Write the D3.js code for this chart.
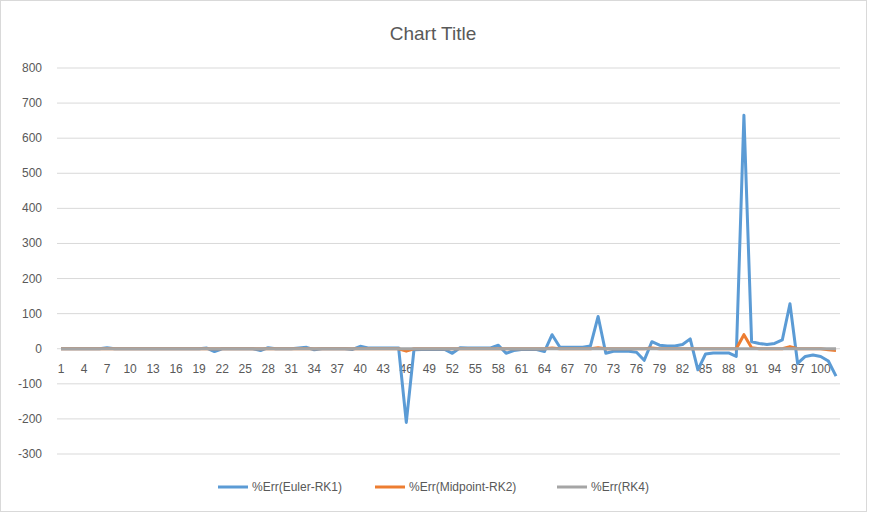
<!DOCTYPE html>
<html><head><meta charset="utf-8">
<script src="https://cdn.jsdelivr.net/npm/d3@7"></script>
<style>body{margin:0;background:#fff;font-family:"Liberation Sans",Arial,sans-serif}</style>
</head><body><div id="app"></div>
<script>
const euler = [0,0,0,0,0,0,3,0,0,0, 0,0,0,0,0,0,0,0,0,2, -8,0,0,0,0,0,-5,3,0,0, 0,2,4,-3,0,0,0,0,-2,7,
  2,2,2,2,2,-210,-3,-2,-2,-2, -2,-13,3,2,2,2,2,10,-13,-5, -2,-2,-2,-8,40,5,4,4,4,8,
  92,-13,-7,-7,-7,-10,-33,20,10,8, 8,12,28,-60,-15,-12,-12,-12,-22,665, 20,15,12,15,25,128,-42,-22,-18,-22, -35,-78];
const midpoint = euler.map(() => 0);
[[46,-7],[65,2],[71,3],[78,2],[90,40],[91,3],[96,6],[101,-3],[102,-5]].forEach(([i,v]) => midpoint[i-1] = v);
const rk4 = euler.map(() => 0);
const seriesNames = ["%Err(Euler-RK1)", "%Err(Midpoint-RK2)", "%Err(RK4)"];
const colors = ["#5b9bd5", "#ed7d31", "#a5a5a5"];
const yTicks = [-300,-200,-100,0,100,200,300,400,500,600,700,800];

const W = 874, H = 519;
const svg = d3.select("#app").append("svg").attr("width", W).attr("height", H);
svg.append("rect").attr("x",0.5).attr("y",0.5).attr("width",W-8).attr("height",H-8)
  .attr("fill","#fff").attr("stroke","#d9d9d9");
svg.append("text").attr("x",433).attr("y",40).attr("text-anchor","middle")
  .attr("fill","#595959").style("font-size","19px").text("Chart Title");

const cats = d3.range(1, euler.length + 1);
const x = d3.scalePoint().domain(cats).range([61, 836]);
const y = d3.scaleLinear().domain([-300, 800]).range([454, 68]);

svg.append("g").selectAll("line").data(yTicks).join("line")
  .attr("x1",57).attr("x2",840).attr("y1",d=>y(d)).attr("y2",d=>y(d))
  .attr("stroke","#d9d9d9");
svg.append("g").selectAll("text").data(yTicks).join("text")
  .attr("x",42).attr("y",d=>y(d)+4).attr("text-anchor","end")
  .attr("fill","#595959").style("font-size","12px").text(d=>d);
svg.append("g").selectAll("text").data(cats.filter(c => (c-1)%3===0)).join("text")
  .attr("x",d=>x(d)).attr("y",y(0)+24).attr("text-anchor","middle")
  .attr("fill","#595959").style("font-size","12px").text(d=>d);

const line = d3.line().x((d,i)=>x(i+1)).y(d=>y(d));
[euler, midpoint, rk4].forEach((s,k) => {
  svg.append("path").datum(s).attr("d", line).attr("fill","none")
    .attr("stroke", colors[k]).attr("stroke-width", 3).attr("stroke-linejoin","round");
});

const lx = [218, 375, 557];
seriesNames.forEach((n,k) => {
  const g = svg.append("g").attr("transform", `translate(${lx[k]},487)`);
  g.append("line").attr("x1",0).attr("x2",30).attr("stroke",colors[k]).attr("stroke-width",3);
  g.append("text").attr("x",34).attr("y",4).attr("fill","#595959").style("font-size","12px").text(n);
});
</script></body></html>
